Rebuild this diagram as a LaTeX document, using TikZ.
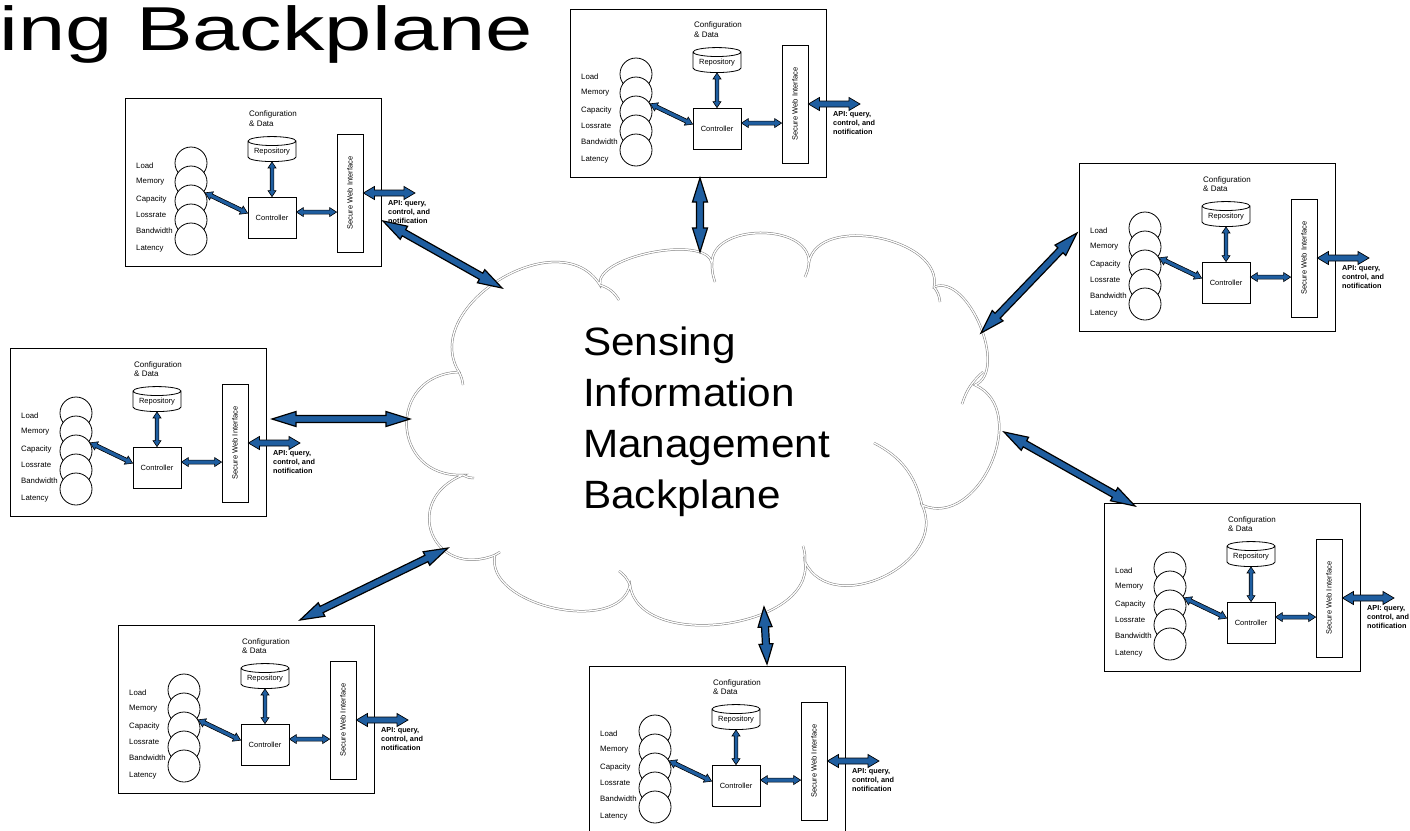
\documentclass[tikz,border=0pt]{standalone}
\usepackage{fontspec}
\setmainfont{Liberation Sans}
\usetikzlibrary{calc,shapes.geometric}
\definecolor{ablue}{RGB}{31,94,160}
\definecolor{cloudline}{RGB}{125,125,125}
\tikzset{
  blkarrow/.style={fill=ablue, draw=black, line join=miter},
  modbox/.style={draw, line width=1pt, minimum width=256pt, minimum height=168pt, inner sep=0pt},
  cfgtxt/.style={anchor=north west, align=left, inner sep=0pt, font=\fontsize{8}{9.5}\selectfont},
  repo/.style={cylinder, shape border rotate=90, aspect=0.25, draw, fill=white, line width=0.8pt,
    minimum width=48pt, minimum height=25pt, inner sep=0pt, font=\fontsize{7.5}{8}\selectfont},
  ctrl/.style={draw, line width=0.8pt, minimum width=48pt, minimum height=41pt, inner sep=0pt, font=\fontsize{7.5}{8}\selectfont},
  swi/.style={draw, line width=0.8pt, minimum width=26pt, minimum height=118pt, inner sep=0pt, font=\fontsize{7.5}{8}\selectfont},
  disk/.style={circle, draw, fill=white, line width=0.8pt, minimum size=32pt, inner sep=0pt},
  lbl/.style={anchor=west, inner sep=0pt, font=\fontsize{7.8}{8}\selectfont},
  apitxt/.style={anchor=north west, align=left, inner sep=0pt, font=\bfseries\fontsize{7.3}{9}\selectfont},
  cloudshape/.style={draw=cloudline, line width=0.5pt, double=white, double distance=1.3pt, fill=white},
  cloudtail/.style={draw=cloudline, line width=0.5pt, double=white, double distance=1.3pt},
}
% block double arrow: from, to, head length, head half width, shaft half width, outline width
\newcommand\blk[6]{%
  \coordinate (ba) at (#1); \coordinate (bb) at (#2);
  \coordinate (bc) at ($(ba)!#3!(bb)$); \coordinate (bd) at ($(bb)!#3!(ba)$);
  \filldraw[blkarrow, line width=#6] (ba) -- ($(bc)!#4!90:(bb)$) -- ($(bc)!#5!90:(bb)$)
    -- ($(bd)!#5!-90:(ba)$) -- ($(bd)!#4!-90:(ba)$) -- (bb)
    -- ($(bd)!#4!90:(ba)$) -- ($(bd)!#5!90:(ba)$)
    -- ($(bc)!#5!-90:(bb)$) -- ($(bc)!#4!-90:(bb)$) -- cycle;}
\newcommand\modl[3]{%
  \begin{scope}[shift={(#2,#3)}]
    \node[modbox] (#1) at (128,84) {};
    \node[cfgtxt] (#1t) at (124,13) {Configuration\\\& Data};
    \node[repo] (#1r) at (147,53.5) {Repository};
    \node[ctrl] (#1c) at (147,119.5) {Controller};
    \node[swi] (#1s) at (225,95) {\rotatebox{90}{Secure Web Interface}};
    \foreach \k/\yy in {1/65,2/84,3/103,4/122,5/141} {\node[disk] (#1d\k) at (66,\yy) {};}
    \node[lbl] (#1l1) at (11,68) {Load};
    \node[lbl] (#1l2) at (11,84) {Memory};
    \node[lbl] (#1l3) at (11,101) {Capacity};
    \node[lbl] (#1l4) at (11,117) {Lossrate};
    \node[lbl] (#1l5) at (11,133) {Bandwidth};
    \node[lbl] (#1l6) at (11,151) {Latency};
    \node[apitxt] (#1a) at (263,102) {API: query,\\control, and\\notification};
    \coordinate (#1o) at (290,95);
  \end{scope}
  \coordinate (#1k) at ($(#1c.north east)!0.37!(#1c.south east)$);
  \blk{#1r.south}{#1c.north}{6pt}{4pt}{1.8pt}{0.6pt}
  \blk{#1k}{#1s.west |- #1k}{7pt}{4.5pt}{2pt}{0.6pt}
  \blk{#1d3.30}{#1c.170}{7pt}{4.5pt}{2pt}{0.6pt}
  \blk{#1s.east}{#1o}{11pt}{6.5pt}{3pt}{0.7pt}
}
\begin{document}
\begin{tikzpicture}[x=1pt, y=-1pt]
\useasboundingbox (0,0) rectangle (1410,830);
\clip (0,0) rectangle (1410,830);
% title
\node[anchor=base west, inner sep=0pt, font=\fontsize{62}{62}\selectfont, xscale=1.37] (title) at (-1,50) {ing Backplane};
% cloud
\coordinate (J1) at (459,372);
\coordinate (J2) at (600,285);
\coordinate (J3) at (712,263);
\coordinate (J4) at (809,262);
\coordinate (J5) at (934,287);
\coordinate (J6) at (975,385);
\coordinate (J7) at (922,505);
\coordinate (J8) at (805,562);
\coordinate (J9) at (630,585);
\coordinate (J10) at (495,555);
\coordinate (J11) at (463,475);
\draw[cloudshape] (J1) to[bend left=90, looseness=1.18] (J2)
  to[bend left=90, looseness=0.66] (J3)
  to[bend left=90, looseness=1.04] (J4)
  to[bend left=90, looseness=1.0] (J5)
  to[bend left=90, looseness=0.89] (J6)
  to[bend left=90, looseness=1.21] (J7)
  to[bend left=90, looseness=1.25] (J8)
  to[bend left=90, looseness=0.98] (J9)
  to[bend left=90, looseness=0.96] (J10)
  to[bend left=90, looseness=2.0] (J11)
  to[bend left=90, looseness=1.8] (J1) -- cycle;
% inner tails of the cloud puffs
\coordinate (T1) at (619,300);
\coordinate (T2) at (715,282);
\coordinate (T3) at (805,277);
\coordinate (T4) at (940,302);
\coordinate (T5a) at (983,372);
\coordinate (T5b) at (962,404);
\coordinate (T6) at (874,443);
\coordinate (T7) at (803,546);
\coordinate (T8) at (619,571);
\coordinate (T9) at (500,552);
\coordinate (T10) at (474,478);
\coordinate (T11) at (463,385);
\draw[cloudtail] (J2) to[bend left=20] (T1);
\draw[cloudtail] (J3) to[bend right=10] (T2);
\draw[cloudtail] (J4) to[bend left=10] (T3);
\draw[cloudtail] (J5) to[bend left=15] (T4);
\draw[cloudtail] (T5a) to[bend right=15] (T5b);
\draw[cloudtail] (T6) to[bend left=25] (J7);
\draw[cloudtail] (T7) to[bend left=10] (J8);
\draw[cloudtail] (T8) to[bend left=15] (J9);
\draw[cloudtail] (T9) to[bend right=10] (J10);
\draw[cloudtail] (J11) to[bend right=15] (T10);
\draw[cloudtail] (J1) to[bend left=10] (T11);
\node[anchor=north west, align=left, inner sep=0pt, font=\fontsize{39.5}{51}\selectfont, xscale=1.07] (ctext) at (583,327) {Sensing\\Information\\Management\\Backplane};
% modules
\modl{ma}{125}{98}
\modl{mb}{570}{9}
\modl{mc}{1079}{163}
\modl{md}{10}{348}
\modl{me}{1104}{503}
\modl{mf}{118}{625}
\modl{mg}{589}{666}
% connector end points
\coordinate (pa) at (383,221);  \coordinate (qa) at (502,288);
\coordinate (pb) at (700,178);  \coordinate (qb) at (700,252);
\coordinate (pc) at (1077,233); \coordinate (qc) at (981,333);
\coordinate (pd) at (272,419);  \coordinate (qd) at (410,419);
\coordinate (pe) at (1135,506); \coordinate (qe) at (1004,432);
\coordinate (pf) at (300,620);  \coordinate (qf) at (448,548);
\coordinate (pg) at (767,664);  \coordinate (qg) at (764,607);
\blk{pa}{qa}{24pt}{7.5pt}{3.5pt}{1.2pt}
\blk{pb}{qb}{24pt}{7.5pt}{3.5pt}{1.2pt}
\blk{pc}{qc}{24pt}{7.5pt}{3.5pt}{1.2pt}
\blk{pd}{qd}{24pt}{7.5pt}{3.5pt}{1.2pt}
\blk{pe}{qe}{24pt}{7.5pt}{3.5pt}{1.2pt}
\blk{pf}{qf}{24pt}{7.5pt}{3.5pt}{1.2pt}
\blk{pg}{qg}{20pt}{7pt}{3.5pt}{1.2pt}
\end{tikzpicture}
\end{document}
